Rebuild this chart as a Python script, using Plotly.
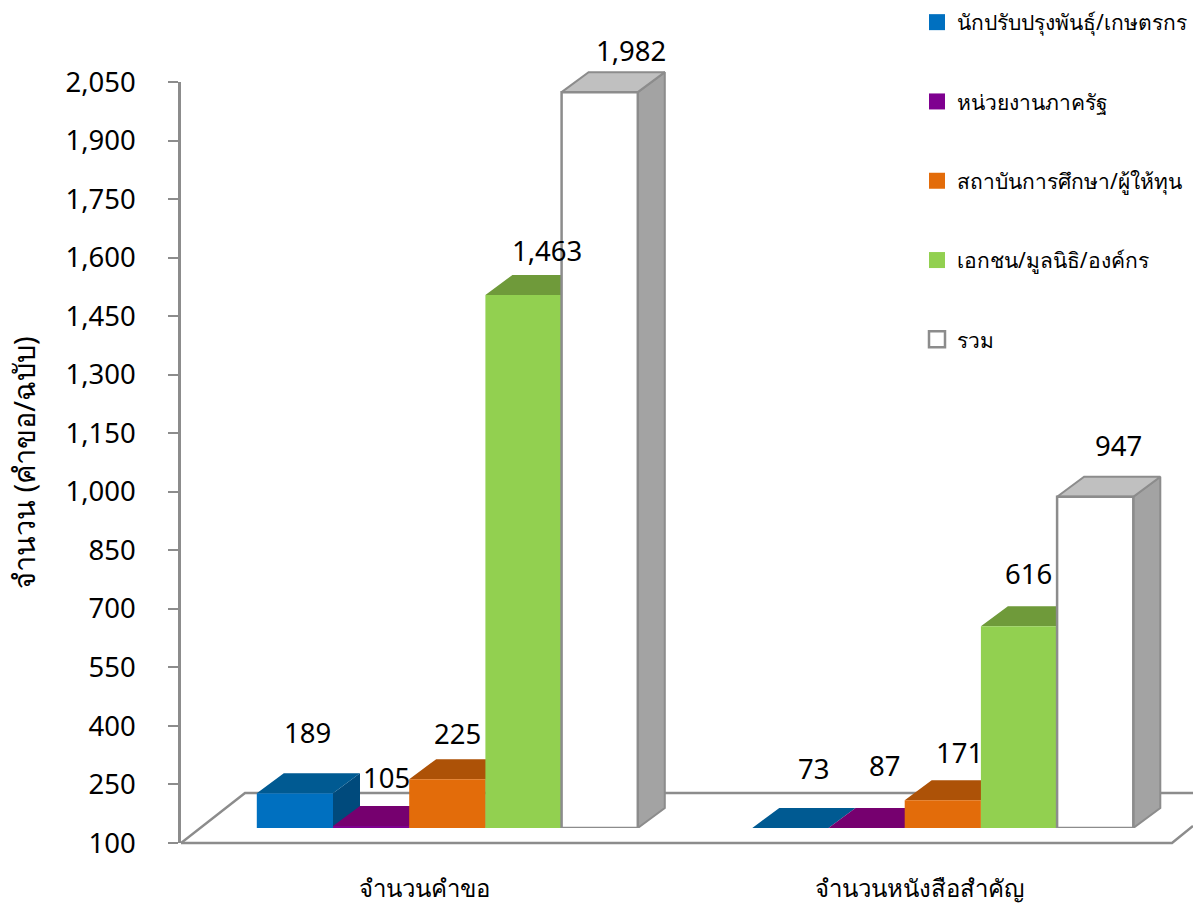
import plotly.graph_objects as go

categories = ["จำนวนคำขอ", "จำนวนหนังสือสำคัญ"]
series_names = ["นักปรับปรุงพันธุ์/เกษตรกร", "หน่วยงานภาครัฐ", "สถาบันการศึกษา/ผู้ให้ทุน", "เอกชน/มูลนิธิ/องค์กร", "รวม"]
breeder = [189, 73]
government = [105, 87]
institute = [225, 171]
private = [1463, 616]
total = [1982, 947]
y_ticks = [100, 250, 400, 550, 700, 850, 1000, 1150, 1300, 1450, 1600, 1750, 1900, 2050]
y_title = "จำนวน (คำขอ/ฉบับ)"

W, H = 1193, 905
FONT = "Noto Sans, Tahoma, sans-serif"
GRAY = "#8c8c8c"
UNIT = 495.5      # px per category
X0 = 424          # px of category 0
SCALE_BAR = 0.391 # px per value for bars
SCALE_AX = 0.39
BAR_W = 76.2 / UNIT
GROUP_SHIFT = 23.3 / UNIT
DX = 27 / UNIT
DY = 20 / SCALE_BAR
YMIN = 100

front = ["#0070c0", "#7f0090", "#e36c0a", "#92d050", "#ffffff"]
top_c = ["#005a92", "#76006f", "#ad5207", "#6f9a3a", "#c0c0c0"]
side_c = ["#004a7c", "#5e0059", "#8f4406", "#5f8532", "#a3a3a3"]
# label offset from bar top centre, px
lab_dx = [[13, 15, 10, 23, 31], [23, 18, 17, 9, 23]]
lab_dy = [[61, 49, 46, 45, 42], [60, 63, 48, 53, 51]]

values = [breeder, government, institute, private, total]

def px_x(p):
    return (p - X0) / UNIT

fig = go.Figure()

# back of floor, on the tick axis
fig.add_trace(go.Scatter(x=[px_x(181), px_x(245), px_x(1193)],
                         y=[100, 100 + 50 / SCALE_AX, 100 + 50 / SCALE_AX],
                         mode="lines", line=dict(color=GRAY, width=2.5),
                         showlegend=False, hoverinfo="skip", xaxis="x", yaxis="y"))
# front of floor
fig.add_trace(go.Scatter(x=[px_x(181), px_x(1172), px_x(1193)],
                         y=[100, 100, 100 + 17 / SCALE_AX],
                         mode="lines", line=dict(color=GRAY, width=2.5),
                         showlegend=False, hoverinfo="skip", xaxis="x", yaxis="y2"))

# depth faces
for j, vals in enumerate(values):
    tx, ty, sx, sy = [], [], [], []
    for c, v in enumerate(vals):
        h = max(v, YMIN)
        xc = c + GROUP_SHIFT + (j - 2) * BAR_W
        a, b = xc - BAR_W / 2, xc + BAR_W / 2
        tx += [a, b, b + DX, a + DX, a, None]
        ty += [h, h, h + DY, h + DY, h, None]
        sx += [b, b + DX, b + DX, b, b, None]
        sy += [YMIN, YMIN + DY, h + DY, h, YMIN, None]
    lw = 2 if j == 4 else 0
    for xs, ys, col in ((sx, sy, side_c[j]), (tx, ty, top_c[j])):
        fig.add_trace(go.Scatter(x=xs, y=ys, mode="lines", fill="toself", fillcolor=col,
                                 line=dict(color=GRAY, width=lw), showlegend=False,
                                 hoverinfo="skip", xaxis="x", yaxis="y3"))

# front faces
annotations = []
for j, vals in enumerate(values):
    xs = [c + GROUP_SHIFT + (j - 2) * BAR_W for c in range(len(vals))]
    fig.add_trace(go.Bar(x=xs, y=[max(v, YMIN) - YMIN for v in vals], base=YMIN, width=BAR_W,
                         marker=dict(color=front[j],
                                     line=dict(color=GRAY, width=2.5 if j == 4 else 0)),
                         showlegend=False, name=series_names[j], xaxis="x", yaxis="y4"))
    for c, v in enumerate(vals):
        annotations.append(dict(x=xs[c], y=max(v, YMIN), xref="x", yref="y4",
                                text=f"{v:,}", showarrow=False,
                                xshift=lab_dx[c][j], yshift=lab_dy[c][j],
                                font=dict(family=FONT, size=27.5, color="#000000")))

# legend entries
for j, name in enumerate(series_names):
    fig.add_trace(go.Scatter(x=[None], y=[None], mode="markers", name=name, legendgroup=name,
                             marker=dict(symbol="square", size=16, color=front[j],
                                         line=dict(color=GRAY, width=2.5 if j == 4 else 0)),
                             xaxis="x", yaxis="y"))

annotations.append(dict(x=23 / W, y=(H - 463) / H, xref="paper", yref="paper", text=y_title,
                        textangle=-90, showarrow=False, xanchor="center", yanchor="middle",
                        font=dict(family=FONT, size=29, color="#000000")))

bar_range = [YMIN, YMIN + 818 / SCALE_BAR]
fig.update_layout(
    width=W, height=H, margin=dict(l=0, r=0, t=0, b=0),
    paper_bgcolor="#ffffff", plot_bgcolor="rgba(0,0,0,0)",
    barmode="overlay", annotations=annotations,
    xaxis=dict(domain=[181 / W, 1], range=[px_x(181), px_x(1193)], anchor="y",
               tickmode="array", tickvals=[0, 1], ticktext=categories,
               showline=False, showgrid=False, zeroline=False, ticks="",
               ticklabelstandoff=29,
               tickfont=dict(family=FONT, size=24, color="#000000")),
    yaxis=dict(domain=[(H - 843) / H, (H - 82) / H], range=[100, 2050],
               tickmode="array", tickvals=y_ticks, ticktext=[f"{t:,}" for t in y_ticks],
               showline=True, linecolor=GRAY, linewidth=2.5, showgrid=False, zeroline=False,
               ticks="outside", ticklen=10, tickcolor=GRAY, tickwidth=2, ticklabelstandoff=27,
               tickfont=dict(family=FONT, size=27.5, color="#000000"), automargin=False),
    yaxis2=dict(domain=[0, 1], range=[100 - (H - 843) / SCALE_AX, 100 + 843 / SCALE_AX],
                visible=False, fixedrange=True),
    yaxis3=dict(domain=[(H - 828) / H, (H - 10) / H], range=bar_range, visible=False),
    yaxis4=dict(domain=[(H - 828) / H, (H - 10) / H], range=bar_range, visible=False,
                overlaying="y3"),
    legend=dict(x=917 / W, y=1 - 2 / H, xanchor="left", yanchor="top",
                bgcolor="rgba(0,0,0,0)", tracegroupgap=49, itemclick=False,
                font=dict(family=FONT, size=21, color="#000000")),
)

fig.write_html("out.html", config={"displayModeBar": False},
               post_script="document.body.style.margin='0';document.body.style.overflow='hidden';")
